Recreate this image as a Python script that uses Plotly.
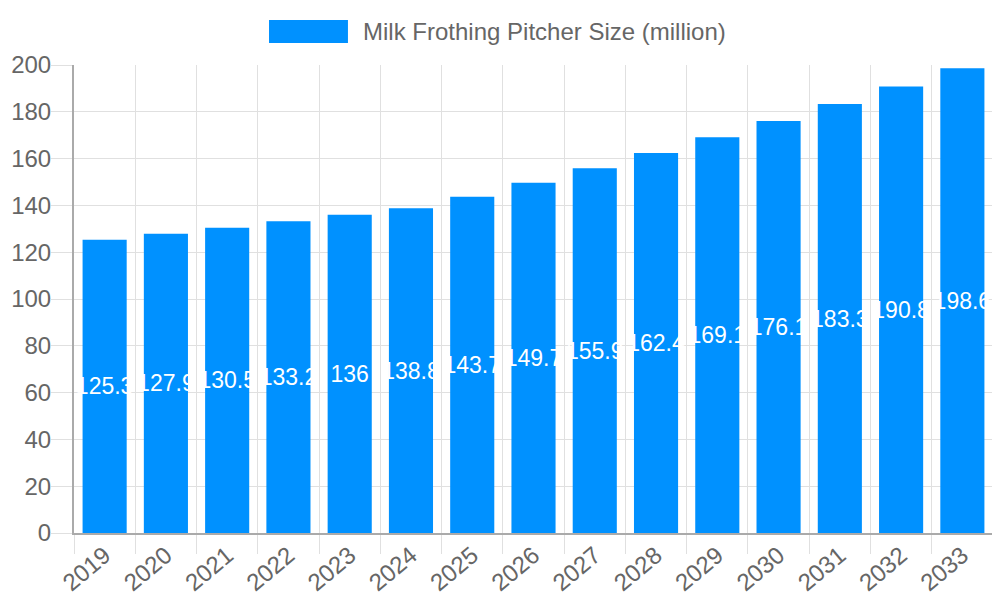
import plotly.graph_objects as go

years = ["2019", "2020", "2021", "2022", "2023", "2024", "2025", "2026",
         "2027", "2028", "2029", "2030", "2031", "2032", "2033"]
sizes = [125.3, 127.9, 130.5, 133.2, 136, 138.8, 143.7, 149.7,
         155.9, 162.4, 169.1, 176.1, 183.3, 190.8, 198.6]
series_name = "Milk Frothing Pitcher Size (million)"

blue = "#0091FF"
grey_txt = "#666666"
font = "Liberation Sans, Arial, sans-serif"

fig = go.Figure()
fig.add_trace(go.Bar(
    x=years, y=sizes, name=series_name,
    marker=dict(color=blue, line=dict(width=0)),
    text=[str(v) for v in sizes],
    textposition="inside",
    insidetextanchor="middle",
    constraintext="none",
    textangle=0,
    textfont=dict(color="white", size=23, family=font),
    cliponaxis=False,
    showlegend=False,
))

# legend drawn by hand (wide chart.js style box)
fig.add_shape(type="rect", xref="paper", yref="paper",
              x0=0.2122, x1=0.2981, y0=1.047, y1=1.0962,
              fillcolor=blue, line=dict(width=0))
fig.add_annotation(text=series_name, xref="paper", yref="paper",
                   x=0.3123, y=1.0716, xanchor="left", yanchor="middle",
                   showarrow=False, font=dict(size=24, color=grey_txt, family=font))

# page body has an 8px margin, so the figure is a bit smaller
fig.update_layout(
    width=992, height=592,
    margin=dict(l=66, r=7, t=57, b=67, autoexpand=False),
    plot_bgcolor="white", paper_bgcolor="white",
    bargap=0.28,
    font=dict(family=font, color=grey_txt, size=24),
)
fig.update_xaxes(
    type="category", tickson="boundaries", automargin=False,
    showgrid=True, gridcolor="#e0e0e0", gridwidth=1,
    ticks="outside", ticklen=19, tickcolor="#e0e0e0",
    ticklabelstandoff=-3,
    showline=True, linecolor="#aaaaaa", linewidth=2,
    tickangle=-40, tickfont=dict(size=24, color=grey_txt),
)
fig.update_yaxes(
    range=[0, 200], dtick=20, automargin=False,
    showgrid=True, gridcolor="#e0e0e0", gridwidth=1,
    ticks="outside", ticklen=21, tickcolor="#e0e0e0",
    ticklabelstandoff=-5,
    showline=True, linecolor="#aaaaaa", linewidth=2,
    zeroline=False,
    tickfont=dict(size=24, color=grey_txt),
)

fig.write_html("out.html")
